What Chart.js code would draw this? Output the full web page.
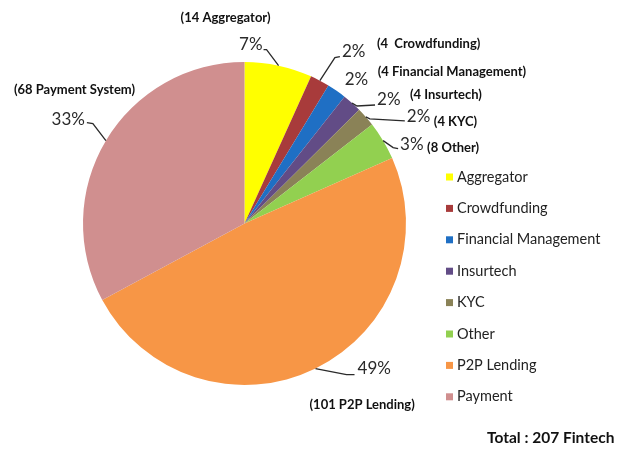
<!DOCTYPE html>
<html>
<head>
<meta charset="utf-8">
<script src="https://cdn.jsdelivr.net/npm/chart.js@4"></script>
<style>
  html, body { margin: 0; padding: 0; background: #fff; }
  #wrap { width: 619px; height: 450px; position: relative; }
</style>
</head>
<body>
<div id="wrap"><canvas id="fintechPie"></canvas></div>
<script>
const categories = ["Aggregator", "Crowdfunding", "Financial Management", "Insurtech", "KYC", "Other", "P2P Lending", "Payment"];
const counts = [14, 4, 4, 4, 4, 8, 101, 68];
const noteNames = ["Aggregator", " Crowdfunding", "Financial Management", "Insurtech", "KYC", "Other", "P2P Lending", "Payment System"];
const pctLabels = ["7%", "2%", "2%", "2%", "2%", "3%", "49%", "33%"];
const sliceColors = ["#FFFF00", "#A83B3B", "#1F6FC4", "#624C86", "#8A8257", "#92D050", "#F79646", "#D08F8F"];

// label placement for each slice, relative to the mid point of its outer edge
// p: percent text anchor, line: knee and end of the leader line, n: note text anchor
const labelLayout = [
  { p: [-16, -21], align: "right", line: [[-12, -16], [-15, -16]], n: [-53, -48], nAlign: "center" },
  { p: [22, -29], align: "left", line: [[15, -23], [20, -24]], n: [57, -37] },
  { p: [8, -11], align: "left", line: null, n: [41, -19] },
  { p: [25, -3], align: "left", line: [[5, 3], [23, 2]], n: [58, -8] },
  { p: [41, 0], align: "left", line: [[4, 2], [39, 4]], n: [68, 5] },
  { p: [17, 4], align: "left", line: [[10, 7], [15, 8]], n: [44, 7] },
  { p: [42, 0], align: "left", line: [[31, 6], [39, 6]], n: [-6, 36] },
  { p: [-21, -21], align: "right", line: [[-13, -17], [-19, -18]], n: [-92, -51] }
];

const total = counts.reduce((s, v) => s + v, 0);

const sliceLabels = {
  id: "sliceLabels",
  afterDatasetsDraw(chart) {
    const ctx = chart.ctx;
    const arcs = chart.getDatasetMeta(0).data;
    ctx.save();
    arcs.forEach((arc, i) => {
      const { x, y, startAngle, endAngle, outerRadius } = arc.getProps(["x", "y", "startAngle", "endAngle", "outerRadius"], true);
      const mid = (startAngle + endAngle) / 2;
      const ex = x + Math.cos(mid) * outerRadius;
      const ey = y + Math.sin(mid) * outerRadius;
      const lay = labelLayout[i];

      if (lay.line) {
        ctx.strokeStyle = "#2a2a2a";
        ctx.lineWidth = 1.3;
        ctx.beginPath();
        ctx.moveTo(ex, ey);
        ctx.lineTo(ex + lay.line[0][0], ey + lay.line[0][1]);
        ctx.lineTo(ex + lay.line[1][0], ey + lay.line[1][1]);
        ctx.stroke();
      }

      ctx.fillStyle = "#2a2a2a";
      ctx.font = "17px Lato";
      ctx.textAlign = lay.align;
      ctx.textBaseline = "middle";
      ctx.fillText(pctLabels[i], ex + lay.p[0], ey + lay.p[1]);

      ctx.fillStyle = "#111";
      ctx.font = "bold 13px Lato";
      ctx.textAlign = lay.nAlign || "left";
      ctx.fillText("(" + counts[i] + " " + noteNames[i] + ")", ex + lay.n[0], ey + lay.n[1]);
    });

    // legend on the right
    ctx.textAlign = "left";
    ctx.textBaseline = "middle";
    ctx.font = "14.5px Lato";
    categories.forEach((name, i) => {
      const ly = 177 + i * 31.4;
      ctx.fillStyle = sliceColors[i];
      ctx.fillRect(446, ly - 3.5, 7, 7);
      ctx.fillStyle = "#222";
      ctx.fillText(name, 457, ly);
    });

    ctx.font = "bold 15.5px Lato";
    ctx.fillStyle = "#111";
    ctx.fillText("Total : " + total + " Fintech", 487, 438);
    ctx.restore();
  }
};

new Chart(document.getElementById("fintechPie"), {
  type: "pie",
  data: {
    labels: categories,
    datasets: [{
      data: counts,
      backgroundColor: sliceColors,
      borderWidth: 0
    }]
  },
  options: {
    responsive: true,
    maintainAspectRatio: false,
    animation: false,
    layout: {
      padding: { top: 62, bottom: 65, left: 83, right: 213 }
    },
    plugins: {
      legend: { display: false },
      tooltip: { enabled: false }
    }
  },
  plugins: [sliceLabels]
});
</script>
</body>
</html>
